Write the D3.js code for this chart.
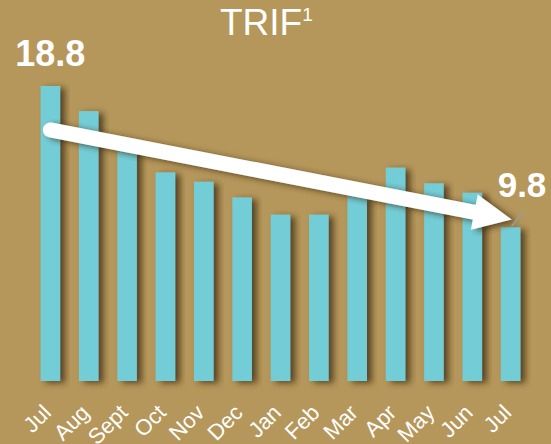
<!DOCTYPE html>
<html>
<head>
<meta charset="utf-8">
<script src="https://cdn.jsdelivr.net/npm/d3@7"></script>
<style>
  html, body { margin: 0; padding: 0; background: #b5975b; }
  svg { display: block; font-family: "Liberation Sans", Arial, sans-serif; }
</style>
</head>
<body>
<div id="chart"></div>
<script>
var width = 551,
    height = 444;

// data
var months = ["Jul", "Aug", "Sept", "Oct", "Nov", "Dec", "Jan", "Feb", "Mar", "Apr", "May", "Jun", "Jul"];
var trif = [18.8, 17.2, 14.9, 13.3, 12.7, 11.7, 10.6, 10.6, 11.8, 13.6, 12.6, 12.0, 9.8];
var trendFrom = 16.0,
    trendTo = 10.3;

var cfg = {
    bar: "#73cdd7",
    bg: "#b5975b",
    baseline: 381,
    top: 86
};

var svg = d3.select("#chart").append("svg")
    .attr("width", width)
    .attr("height", height);

svg.append("rect")
    .attr("width", width)
    .attr("height", height)
    .style("fill", cfg.bg);

var defs = svg.append("defs");
var shadow = defs.append("filter")
    .attr("id", "shadow")
    .attr("x", "-50%").attr("y", "-10%")
    .attr("width", "200%").attr("height", "120%");
shadow.append("feDropShadow")
    .attr("dx", 5)
    .attr("dy", 2)
    .attr("stdDeviation", 3)
    .attr("flood-color", "#3b2a0c")
    .attr("flood-opacity", 0.75);

var x = d3.scaleBand()
    .domain(d3.range(months.length))
    .range([31, 530])
    .paddingInner(0.49)
    .paddingOuter(0.25);

var y = d3.scaleLinear()
    .domain([0, 18.8])
    .range([cfg.baseline, cfg.top]);

function xc(i) {
    return x(i) + x.bandwidth() / 2;
}

// bars
svg.append("g")
    .selectAll("rect")
    .data(trif)
    .enter().append("rect")
    .attr("x", function(d, i) { return x(i); })
    .attr("y", function(d) { return y(d); })
    .attr("width", x.bandwidth())
    .attr("height", function(d) { return y(0) - y(d); })
    .attr("filter", "url(#shadow)")
    .style("fill", cfg.bar);

// axis line
var xAxis = d3.axisBottom(x).tickSize(0).tickFormat("");
var axisG = svg.append("g")
    .attr("transform", "translate(0," + (y(0) + 1) + ")")
    .call(xAxis);
axisG.select(".domain")
    .attr("filter", "url(#shadow)")
    .style("stroke", "#ddd6c6")
    .style("stroke-width", 2);

// month labels
svg.append("g")
    .selectAll("text")
    .data(months)
    .enter().append("text")
    .attr("transform", function(d, i) {
        return "translate(" + (xc(i) + 2) + ",414) rotate(-45)";
    })
    .attr("text-anchor", "end")
    .style("fill", "#fff")
    .style("font-size", "22px")
    .text(function(d) { return d; });

// trend arrow
var last = trif.length - 1;
var p0 = [xc(0), y(trendFrom)],
    p1 = [xc(last) + 1, y(trendTo)];
var dx = p1[0] - p0[0], dy = p1[1] - p0[1];
var len = Math.sqrt(dx * dx + dy * dy);
var ux = dx / len, uy = dy / len;
var headLen = 38, headHalf = 18;
var hb = [p1[0] - ux * headLen, p1[1] - uy * headLen];

var arrow = svg.append("g").attr("filter", "url(#shadow)");
arrow.append("line")
    .attr("x1", p0[0])
    .attr("y1", p0[1])
    .attr("x2", hb[0] + ux * 2)
    .attr("y2", hb[1] + uy * 2)
    .style("stroke", "#fff")
    .style("stroke-width", 15)
    .style("stroke-linecap", "round");
arrow.append("path")
    .attr("d", "M" + p1 + "L" + [hb[0] - uy * headHalf, hb[1] + ux * headHalf] +
        "L" + [hb[0] + uy * headHalf, hb[1] - ux * headHalf] + "Z")
    .style("fill", "#fff");

// value labels
svg.append("text")
    .attr("x", xc(0))
    .attr("y", 66)
    .attr("text-anchor", "middle")
    .style("fill", "#fff")
    .style("font-weight", "bold")
    .style("font-size", "36px")
    .text(trif[0]);

svg.append("line")
    .attr("x1", xc(last) + 1)
    .attr("y1", y(trif[last]) - 1)
    .attr("x2", xc(last) + 13)
    .attr("y2", y(trif[last]) - 16)
    .style("stroke", "#9b9b9b")
    .style("stroke-width", 1.5);

svg.append("text")
    .attr("x", 522)
    .attr("y", 197)
    .attr("text-anchor", "middle")
    .style("fill", "#fff")
    .style("font-weight", "bold")
    .style("font-size", "35px")
    .text(trif[last].toFixed(1));

// title
var title = svg.append("text")
    .attr("x", 220)
    .attr("y", 35)
    .style("fill", "#fff")
    .style("font-size", "37px");
title.append("tspan").text("TRIF");
title.append("tspan")
    .attr("dy", -14)
    .style("font-size", "19px")
    .text("1");
</script>
</body>
</html>
